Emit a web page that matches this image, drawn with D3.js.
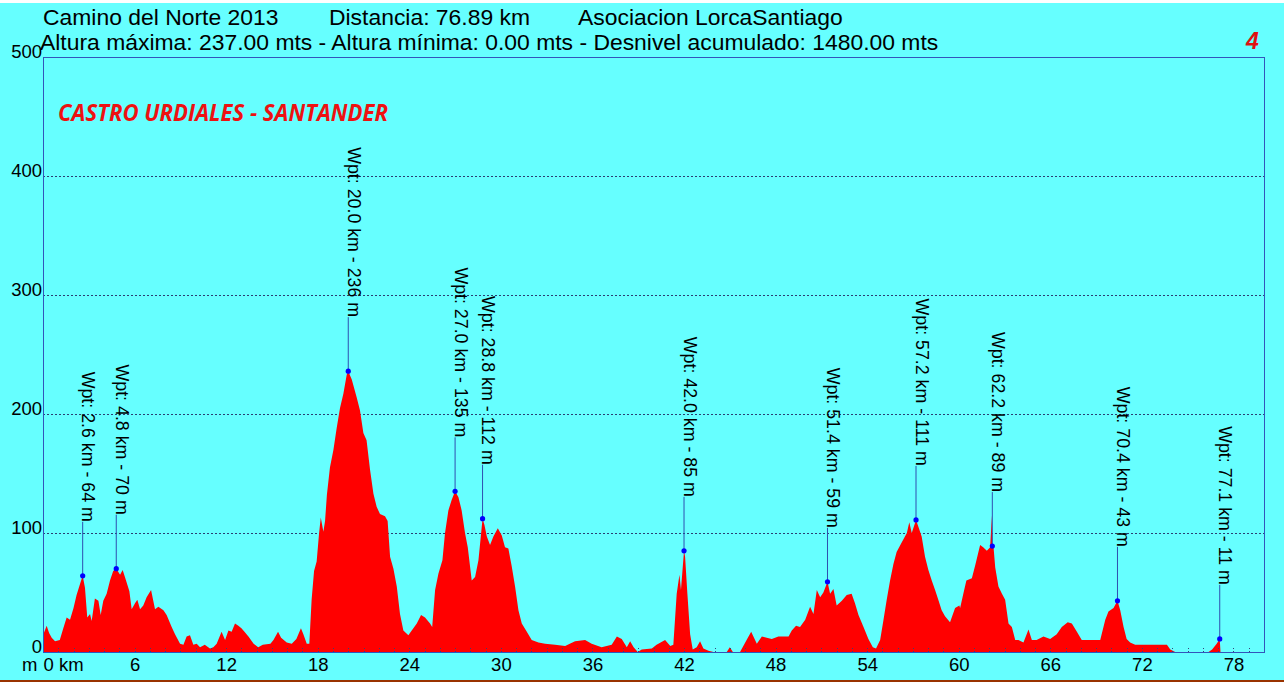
<!DOCTYPE html>
<html>
<head>
<meta charset="utf-8">
<script src="https://cdn.jsdelivr.net/npm/d3@7/dist/d3.min.js"></script>
<style>
  html, body { margin: 0; padding: 0; background: #ffffff; }
  svg { display: block; }
  text { font-family: "Liberation Sans", Arial, sans-serif; }
</style>
</head>
<body>
<div id="chart"></div>
<script>
// elevation profile (km, metres)
let profileKm = [0,0.12,0.24,0.4,0.57,0.79,1.1,1.33,1.55,1.77,2.0,2.2,2.42,2.6,2.75,2.9,3.08,3.19,3.4,3.63,3.78,3.95,4.17,4.39,4.6,4.8,5.05,5.22,5.44,5.66,5.81,6.03,6.18,6.36,6.57,6.79,7.08,7.34,7.56,7.89,8.1,8.43,8.65,8.98,9.2,9.41,9.63,9.85,10.07,10.29,10.6,10.94,11.16,11.38,11.7,11.93,12.15,12.36,12.58,12.8,13.0,13.2,13.46,13.8,14.1,14.4,14.9,15.1,15.4,15.6,15.97,16.3,16.6,16.9,17.06,17.28,17.45,17.6,17.76,17.93,18.09,18.2,18.37,18.48,18.6,18.8,19.03,19.24,19.46,19.68,19.9,20.0,20.23,20.55,20.77,20.99,21.2,21.43,21.65,21.86,22.08,22.41,22.58,22.74,22.96,23.18,23.39,23.61,23.94,24.16,24.49,24.77,25.03,25.36,25.5,25.69,25.91,26.17,26.34,26.56,26.78,27.0,27.22,27.43,27.65,27.83,28.09,28.31,28.53,28.8,28.92,29.08,29.29,29.51,29.8,30.06,30.27,30.49,30.71,30.93,31.15,31.37,31.7,32.02,32.46,32.9,33.55,34.21,34.86,35.52,35.95,36.6,37.26,37.6,37.92,38.25,38.47,38.7,38.97,39.23,39.89,40.2,40.76,41.1,41.3,41.52,41.7,41.8,42.0,42.07,42.22,42.4,42.57,42.83,43.05,43.27,43.6,43.93,44.8,45.0,45.2,45.67,46.1,46.4,46.77,47.1,47.42,47.75,48.18,48.52,48.85,49.06,49.34,49.6,49.94,50.26,50.48,50.7,50.92,51.13,51.4,51.57,51.79,52.0,52.34,52.66,52.98,53.2,53.43,53.76,54.08,54.37,54.58,54.85,55.07,55.28,55.5,55.72,55.93,56.26,56.6,56.76,56.92,57.2,57.36,57.57,57.79,58.01,58.23,58.45,58.66,58.88,59.1,59.43,59.76,60.04,60.09,60.3,60.5,60.86,61.1,61.4,61.6,61.84,62.06,62.17,62.2,62.28,62.39,62.6,62.83,63.04,63.26,63.48,63.7,63.91,64.24,64.57,64.79,65.1,65.55,65.99,66.42,66.75,67.14,67.41,67.74,68.06,68.5,68.94,69.27,69.6,69.81,70.14,70.4,70.58,70.8,71.0,71.23,71.56,72.43,73.3,73.64,73.86,74.18,76.37,76.6,76.9,77.1,77.15];
let profileElev = [14,18,22,16,12,9,10,20,29,27,37,48,57,64,54,29,32,26,45,43,31,43,49,60,68,70,65,69,60,51,36,41,44,36,39,46,52,36,38,35,31,21,15,7,6,13,14,6,7,4,6,3,4,7,17,10,18,17,24,22,20,17,13,7,4,6,7,10,17,12,8,7,11,20,15,7,7,44,68,76,100,113,101,110,132,155,170,188,205,217,233,236,229,214,203,184,178,153,133,122,116,114,110,80,70,55,32,18,14,18,24,31,29,24,21,52,66,77,100,119,128,135,130,119,100,88,60,63,77,112,107,97,90,97,104,98,88,87,72,55,35,24,17,10,8,7,6,5,9,10,7,4,6,13,11,4,9,4,0,2,3,6,10,5,6,49,65,52,85,80,49,15,2,4,9,3,1,0,0,4,0,0,10,17,7,13,12,11,13,13,13,18,22,21,27,38,32,52,46,50,59,49,53,39,43,48,49,41,31,21,11,4,3,10,27,44,60,74,84,92,100,109,100,111,105,97,80,69,60,52,44,35,30,25,37,39,37,49,60,62,74,90,88,85,88,115,89,88,71,55,49,44,24,21,10,10,8,19,10,10,13,11,15,21,25,24,17,10,10,10,10,27,34,37,43,35,21,11,8,6,6,6,6,2,0,0,2,7,11,0];

// waypoints
let wptKm = [2.6, 4.8, 20.0, 27.0, 28.8, 42.0, 51.4, 57.2, 62.2, 70.4, 77.1];
let wptElev = [64, 70, 236, 135, 112, 85, 59, 111, 89, 43, 11];

// axis ticks
let xTicks = [0, 6, 12, 18, 24, 30, 36, 42, 48, 54, 60, 66, 72, 78];
let yTicks = [0, 100, 200, 300, 400, 500];
let gridTicks = [100, 200, 300, 400];

let headerLine1 = ["Camino del Norte 2013", "Distancia: 76.89 km", "Asociacion LorcaSantiago"];
let headerLine2 = "Altura máxima: 237.00 mts - Altura mínima: 0.00 mts - Desnivel acumulado: 1480.00 mts";
let stageTitle = "CASTRO URDIALES - SANTANDER";
let stageNumber = "4";

let W = 1284, H = 684;
let plot = { left: 43, right: 1264, top: 57, bottom: 652 };

let svg = d3.select("#chart").append("svg")
    .attr("width", W)
    .attr("height", H);

// background
svg.append("rect")
    .attr("x", 0).attr("y", 3)
    .attr("width", W).attr("height", 677)
    .attr("fill", "#66ffff");
svg.append("line")
    .attr("x1", 0).attr("x2", W)
    .attr("y1", 681).attr("y2", 681)
    .attr("stroke", "#993300").attr("stroke-width", 2);

let x = d3.scaleLinear().domain([0, 80]).range([plot.left, plot.right]);
let y = d3.scaleLinear().domain([0, 500]).range([plot.bottom, plot.top]);

// grid
svg.append("g")
    .selectAll("line")
    .data(gridTicks)
    .enter()
    .append("line")
    .attr("x1", plot.left).attr("x2", plot.right)
    .attr("y1", d => Math.round(y(d)) + 0.5).attr("y2", d => Math.round(y(d)) + 0.5)
    .attr("stroke", "#2a3f73")
    .attr("stroke-width", 1)
    .attr("stroke-dasharray", "2,2");

// the profile
let pts = profileKm.map((k, i) => ({ km: k, e: profileElev[i] }));
svg.append("path")
    .datum(pts)
    .attr("fill", "#ff0000")
    .attr("stroke", "none")
    .attr("d", d3.area()
        .x(d => x(d.km))
        .y0(y(0))
        .y1(d => y(d.e))
    );

// frame
svg.append("rect")
    .attr("x", plot.left + 0.5).attr("y", plot.top + 0.5)
    .attr("width", plot.right - plot.left)
    .attr("height", plot.bottom - plot.top)
    .attr("fill", "none")
    .attr("stroke", "#3355bb")
    .attr("stroke-width", 1);

// small km ticks along the bottom
svg.append("g")
    .selectAll("line")
    .data(d3.range(1, 80))
    .enter()
    .append("line")
    .attr("x1", d => Math.round(x(d)) + 0.5).attr("x2", d => Math.round(x(d)) + 0.5)
    .attr("y1", plot.bottom).attr("y2", plot.bottom - 6)
    .attr("stroke", "#33447a")
    .attr("stroke-width", 1)
    .attr("stroke-dasharray", "1,2");

// Y axis
let yAxis = svg.append("g")
    .attr("transform", "translate(" + (plot.left - 1) + ",0)")
    .call(d3.axisLeft(y).tickValues(yTicks).tickSize(0).tickPadding(0));
yAxis.select(".domain").remove();
yAxis.selectAll("text")
    .attr("dy", "0")
    .attr("fill", "#000")
    .style("font-size", "18.5px")
    .style("font-family", "Liberation Sans, Arial, sans-serif");

// X axis
let xAxis = svg.append("g")
    .attr("transform", "translate(0," + plot.bottom + ")")
    .call(d3.axisBottom(x).tickValues(xTicks).tickSize(0).tickPadding(0)
        .tickFormat(d => d === 0 ? "0 km" : d));
xAxis.select(".domain").remove();
xAxis.selectAll("text")
    .attr("y", 19)
    .attr("dy", "0")
    .attr("fill", "#000")
    .style("font-size", "18.5px")
    .style("font-family", "Liberation Sans, Arial, sans-serif")
    .attr("text-anchor", d => d === 0 ? "start" : "middle");

svg.append("text")
    .attr("x", 22).attr("y", plot.bottom + 19)
    .style("font-size", "18.5px")
    .text("m");

// waypoints
let wpts = wptKm.map((k, i) => ({ km: k, e: wptElev[i] }));
let wg = svg.append("g").selectAll("g").data(wpts).enter().append("g");
wg.append("line")
    .attr("x1", d => x(d.km)).attr("x2", d => x(d.km))
    .attr("y1", d => y(d.e)).attr("y2", d => y(d.e) - 54)
    .attr("stroke", "#2f4fb0")
    .attr("stroke-width", 1);
wg.append("circle")
    .attr("cx", d => x(d.km))
    .attr("cy", d => y(d.e))
    .attr("r", 2.6)
    .attr("fill", "#0000ff");
wg.append("text")
    .attr("transform", d => "translate(" + (x(d.km) - 0.5) + "," + (y(d.e) - 54) + ") rotate(90)")
    .attr("text-anchor", "end")
    .attr("fill", "#000")
    .style("font-size", "17.8px")
    .text(d => "Wpt: " + d.km.toFixed(1) + " km - " + d.e + " m");

// header
let h1x = [43, 329, 578];
svg.append("g").selectAll("text")
    .data(headerLine1)
    .enter()
    .append("text")
    .attr("x", (d, i) => h1x[i])
    .attr("y", 25)
    .attr("fill", "#000")
    .style("font-size", "22.9px")
    .text(d => d);
svg.append("text")
    .attr("x", 40).attr("y", 50)
    .attr("fill", "#000")
    .style("font-size", "22.9px")
    .text(headerLine2);

svg.append("text")
    .attr("x", 1246).attr("y", 49)
    .attr("fill", "#e01010")
    .style("font-size", "23px")
    .style("font-weight", "bold")
    .style("font-style", "italic")
    .text(stageNumber);

svg.append("text")
    .attr("x", 58).attr("y", 121)
    .attr("fill", "#ee1111")
    .style("font-family", "Open Sans, Liberation Sans, sans-serif")
    .style("font-size", "24px")
    .style("font-weight", "bold")
    .style("font-style", "italic")
    .attr("textLength", 330)
    .attr("lengthAdjust", "spacingAndGlyphs")
    .text(stageTitle);
</script>
</body>
</html>
